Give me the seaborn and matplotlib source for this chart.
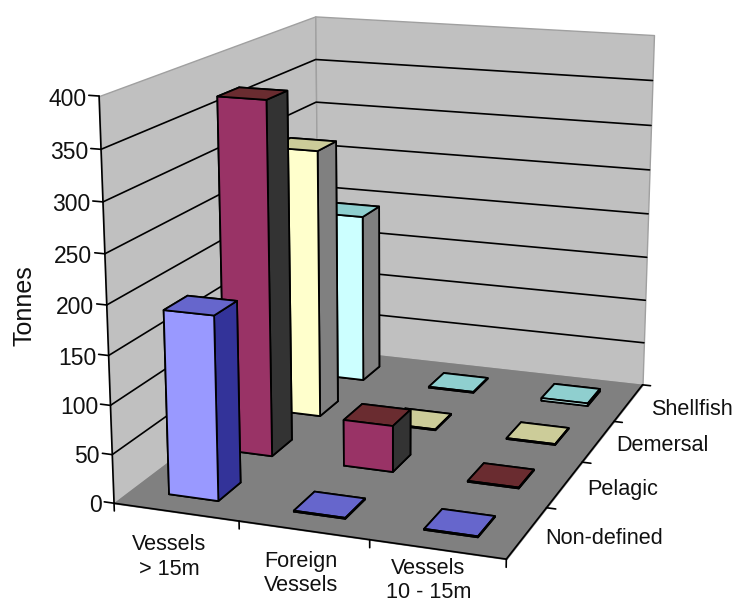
import numpy as np
import matplotlib
matplotlib.use("Agg")
import matplotlib.pyplot as plt
import seaborn as sns
from mpl_toolkits.mplot3d.art3d import Poly3DCollection

W, H = 736, 602

vessels = ["Vessels\n> 15m", "Foreign\nVessels", "Vessels\n10 - 15m"]
fish = ["Non-defined", "Pelagic", "Demersal", "Shellfish"]
non_defined = [188, 1, 1]
pelagic = [372, 49, 1]
demersal = [294, 1, 1]
shellfish = [192, 1, 3]
z_ticks = [0, 50, 100, 150, 200, 250, 300, 350, 400]

front = ["#9999FF", "#993366", "#FFFFCC", "#CCFFFF"]
side = ["#333399", "#333333", "#808080", "#808080"]
top = ["#6666CC", "#6A2C30", "#CCCC99", "#8FCFCF"]

sns.set_theme(style="white")
plt.rcParams["font.family"] = ["Liberation Sans", "DejaVu Sans"]

fig = plt.figure(figsize=(W / 100, H / 100), dpi=100)
ax = fig.add_axes([24.86 / W, -28.35 / H, 729.59 / W, 729.59 / H], projection="3d", computed_zorder=False)
ax.set_xlim(0, 3)
ax.set_ylim(0, 4)
ax.set_zlim(0, 400)
ax.set_axis_off()

# camera found by fitting the wall and floor corners of the reference
ax.view_init(14.982, -70.163, -0.059)
ax.set_proj_type("persp", focal_length=0.529)
ax.set_box_aspect((0.992, 1.320, 1.0))
M = ax.get_proj()


def label(x, y, z, text, dx, dy, ha, size=15.6):
    v = M @ np.array([x, y, z, 1.0])
    ax.annotate(text, xy=(v[0] / v[3], v[1] / v[3]), xycoords="data", xytext=(dx, dy),
                textcoords="offset pixels", ha=ha, va="center", fontsize=size,
                color="#111111", annotation_clip=False, zorder=4)


x_max, y_max, z_max = 3, 4, 400
wall = "#C0C0C0"
floor = "#808080"
left_wall = [[(0, 0, 0), (0, y_max, 0), (0, y_max, z_max), (0, 0, z_max)]]
back_wall = [[(0, y_max, 0), (x_max, y_max, 0), (x_max, y_max, z_max), (0, y_max, z_max)]]
floor_poly = [[(0, 0, 0), (x_max, 0, 0), (x_max, y_max, 0), (0, y_max, 0)]]
ax.add_collection3d(Poly3DCollection(left_wall, facecolor=wall, edgecolor="#A0A0A0", linewidth=1, zorder=1))
ax.add_collection3d(Poly3DCollection(back_wall, facecolor=wall, edgecolor="#A0A0A0", linewidth=1, zorder=1))
ax.add_collection3d(Poly3DCollection(floor_poly, facecolor=floor, edgecolor=floor, linewidth=1, zorder=2))

line = dict(color="black", linewidth=1.2, zorder=3)
for z in z_ticks[1:-1]:
    ax.plot([0, 0, x_max], [0, y_max, y_max], [z, z, z], **line)
ax.plot([0, 0], [0, 0], [-8, z_max], **line)
ax.plot([0, x_max], [0, 0], [0, 0], **line)
ax.plot([x_max, x_max], [0, y_max], [0, 0], **line)
for z in z_ticks:
    ax.plot([-0.08, 0], [0, 0], [z, z], **line)
    label(-0.1, 0, z, str(z), 0, -4, "right", size=16.5)
for i in range(1, len(vessels) + 1):
    ax.plot([i, i], [0, 0], [-8, 0], **line)
for j in range(len(fish)):
    ax.plot([x_max, x_max + 0.07], [j + 1, j + 1], [0, 0], **line)
x_off = [(-7, -45), (-3, -43), (-9, -31)]
for i, name in enumerate(vessels):
    label(i + 0.5, 0, 0, name, x_off[i][0], x_off[i][1], "center")
y_off = [(18, -6), (22, -5), (18, -4), (22, -7)]
for j, name in enumerate(fish):
    label(x_max, j + 0.5, 0, name, y_off[j][0], y_off[j][1], "left")

series = [non_defined, pelagic, demersal, shellfish]
bar_w = 0.4
bar_d = 0.4
for j in range(len(fish) - 1, -1, -1):
    for i in range(len(vessels) - 1, -1, -1):
        colors = [top[j], top[j], front[j], front[j], side[j], side[j]]
        ax.bar3d(i + 0.3, j + 0.3, 0, bar_w, bar_d, series[j][i], color=colors,
                 edgecolor="black", linewidth=1.3, shade=False, zorder=10 + (3 - j) * 10 + (2 - i))

fig.text(25 / W, 1 - 306 / H, "Tonnes", rotation=90, ha="center", va="center", fontsize=18, color="#111111")
fig.savefig("out.png", dpi=100)
